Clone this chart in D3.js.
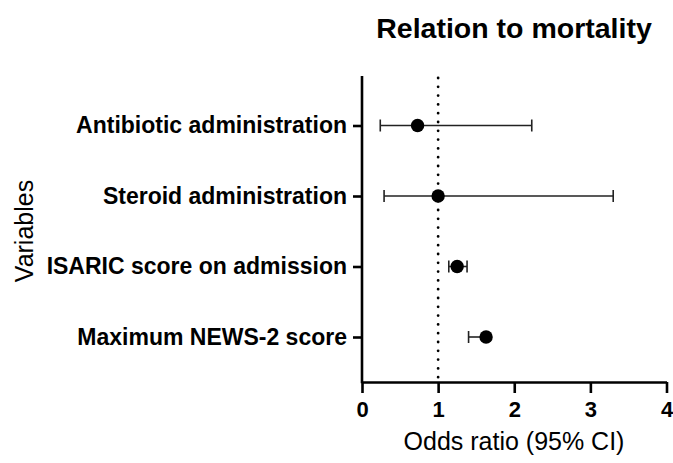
<!DOCTYPE html>
<html>
<head>
<meta charset="utf-8">
<script src="https://cdn.jsdelivr.net/npm/d3@7"></script>
<style>
html,body{margin:0;padding:0;background:#fff;}
svg{display:block;}
text{font-family:"Liberation Sans",Arial,Helvetica,sans-serif;fill:#000;}
</style>
</head>
<body>
<svg id="chart" width="673" height="463"></svg>
<script>
const categories = ["Antibiotic administration","Steroid administration","ISARIC score on admission","Maximum NEWS-2 score"];
const oddsRatio = [0.73, 1.00, 1.25, 1.63];
const ciLower = [0.24, 0.29, 1.14, 1.40];
const ciUpper = [2.23, 3.30, 1.38, 1.66];
const xTicks = [0,1,2,3,4];
const referenceLine = 1;

const svg = d3.select("#chart");
const x = d3.scaleLinear().domain([0,4]).range([362, 666.5]);
const y = d3.scalePoint().domain(categories).range([125.5, 337]);
const yTop = 76, yBottom = 382;

// title
svg.append("text").attr("x", 514).attr("y", 38).attr("text-anchor","middle")
  .style("font-size","28.5px").style("font-weight","bold").text("Relation to mortality");

// reference dotted line
svg.append("line").attr("x1", x(referenceLine)).attr("x2", x(referenceLine))
  .attr("y1", yTop+2).attr("y2", yBottom)
  .attr("stroke","#000").attr("stroke-width",2.8).attr("stroke-linecap","round")
  .attr("stroke-dasharray","0,8.8");

// x axis
const xAxis = svg.append("g").attr("transform",`translate(0,${yBottom})`)
  .call(d3.axisBottom(x).tickValues(xTicks).tickFormat(d3.format("d")).tickSize(11).tickSizeOuter(0).tickPadding(8));
xAxis.select(".domain").attr("stroke-width",2.6);
xAxis.selectAll(".tick line").attr("stroke-width",2.6);
xAxis.selectAll(".tick text").style("font-size","22px").style("font-weight","bold").attr("fill","#000");

// y axis
const yAxis = svg.append("g").attr("transform",`translate(${x(0)},0)`)
  .call(d3.axisLeft(y).tickSize(9).tickSizeOuter(0).tickPadding(6));
yAxis.select(".domain").remove();
yAxis.append("line").attr("x1",0).attr("x2",0).attr("y1",yTop).attr("y2",yBottom+1.3)
  .attr("stroke","#000").attr("stroke-width",2.6);
yAxis.selectAll(".tick line").attr("stroke-width",2.6);
yAxis.selectAll(".tick text").style("font-size","23px").style("font-weight","bold").attr("fill","#000");

// axis titles
svg.append("text").attr("x", 514).attr("y", 450).attr("text-anchor","middle")
  .style("font-size","25px").text("Odds ratio (95% CI)");
svg.append("text").attr("transform","translate(33,231) rotate(-90)").attr("text-anchor","middle")
  .style("font-size","25px").text("Variables");

// error bars
const data = categories.map((c,i)=>({c, or:oddsRatio[i], lo:ciLower[i], hi:ciUpper[i]}));
const g = svg.append("g");
data.forEach(d=>{
  const cy = y(d.c);
  g.append("line").attr("x1",x(d.lo)).attr("x2",x(d.hi)).attr("y1",cy).attr("y2",cy)
    .attr("stroke","#222").attr("stroke-width",1.6);
  [d.lo,d.hi].forEach(v=>{
    g.append("line").attr("x1",x(v)).attr("x2",x(v)).attr("y1",cy-6).attr("y2",cy+6)
      .attr("stroke","#222").attr("stroke-width",1.6);
  });
  g.append("circle").attr("cx",x(d.or)).attr("cy",cy).attr("r",6.7).attr("fill","#000");
});
</script>
</body>
</html>
